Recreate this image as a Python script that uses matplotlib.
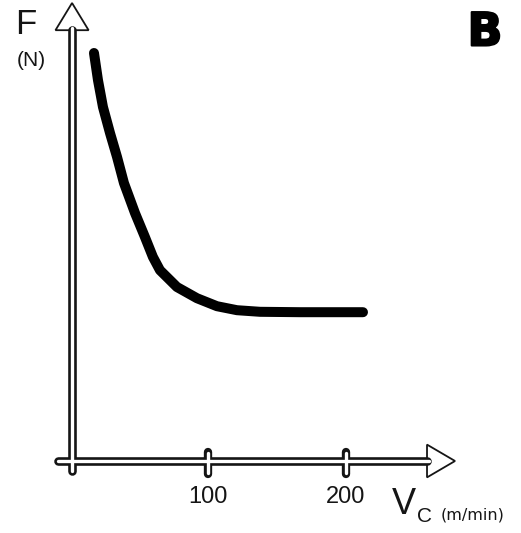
import matplotlib
matplotlib.use("Agg")
import matplotlib.pyplot as plt
from matplotlib.patches import Polygon
import matplotlib.patheffects as pe

plt.rcParams['font.family'] = ['Liberation Sans', 'DejaVu Sans']

# Cutting force F versus cutting speed Vc
vc = [17.4, 20.3, 23.9, 29.0, 34.1, 39.1, 47.1, 54.3, 60.1, 65.2, 77.5,
      92.0, 106.5, 121.0, 137.7, 166.7, 212.3]
force = [102, 95.2, 88.5, 82, 76, 69.5, 62, 56, 51, 47.7, 43.5,
         40.7, 38.7, 37.7, 37.3, 37.2, 37.2]
x_ticks = [100, 200]
x_tick_labels = ["100", "200"]

W, H, DPI = 521, 533, 100
fig = plt.figure(figsize=(W / DPI, H / DPI), dpi=DPI)
ax = fig.add_axes([0, 0, 1, 1])
ax.set_xlim(-50.7, 326.8)
ax.set_ylim(-18, 115.25)
ax.axis("off")

outer_lw, inner_lw = 6.2, 2.4
y_axis_x = 1.5
ink = "#151515"

# arrowheads (open triangles)
y_tip, y_base, y_half = 114.5, 107.7, 12.0
x_tip, x_base, x_half = 279, 258.7, 4.1
ax.add_patch(Polygon([[y_axis_x - y_half, y_base], [y_axis_x, y_tip], [y_axis_x + y_half, y_base]],
                     closed=True, facecolor="white", edgecolor=ink, lw=1.3, zorder=1))
ax.add_patch(Polygon([[x_base, -x_half], [x_tip, 0], [x_base, x_half]],
                     closed=True, facecolor="white", edgecolor=ink, lw=1.3, zorder=1))

# hollow axis shafts (outer stroke, then white core)
ax.plot([y_axis_x, y_axis_x], [-2.6, y_base], color=ink, lw=outer_lw,
        solid_capstyle="round", zorder=2)
ax.plot([-8.6, x_base], [0, 0], color=ink, lw=outer_lw,
        solid_capstyle="round", zorder=2)
for t in x_ticks:
    ax.plot([t, t], [-3.2, 2.3], color=ink, lw=6.0, solid_capstyle="round", zorder=2)

ax.plot([y_axis_x, y_axis_x], [-2.6, y_base + 0.6], color="white", lw=inner_lw,
        solid_capstyle="round", zorder=3)
ax.plot([-8.6, x_base + 1.5], [0, 0], color="white", lw=inner_lw,
        solid_capstyle="round", zorder=3)
for t in x_ticks:
    ax.plot([t, t], [-2.9, 2.0], color="white", lw=2.4, solid_capstyle="round", zorder=3)

# curve
ax.plot(vc, force, color="black", lw=7.2, solid_capstyle="round",
        solid_joinstyle="round", zorder=5)

def fx(px):
    return px / W

def fy(py):
    return 1 - py / H

for t, lab in zip(x_ticks, x_tick_labels):
    xp = 70 + 1.38 * t
    fig.text(fx(xp), fy(497), lab, fontsize=17, ha="center", va="center", color=ink)

fig.text(fx(26), fy(24), "F", fontsize=25, ha="center", va="center", color=ink)
fig.text(fx(31), fy(60), "(N)", fontsize=15, ha="center", va="center", color=ink)
fig.text(fx(485), fy(33), "B", fontsize=33, fontweight="bold", family=["DejaVu Sans"],
         ha="center", va="center", color="black",
         path_effects=[pe.withStroke(linewidth=1.5, foreground="black")])
fig.text(fx(392), fy(504), "V", fontsize=26, ha="left", va="center", color=ink)
fig.text(fx(417), fy(517), "C", fontsize=15, ha="left", va="center", color=ink)
fig.text(fx(441), fy(515), "(m/min)", fontsize=11.5, family=["DejaVu Sans"],
         ha="left", va="center", color=ink)

fig.savefig("out.png", dpi=DPI, facecolor="white")
